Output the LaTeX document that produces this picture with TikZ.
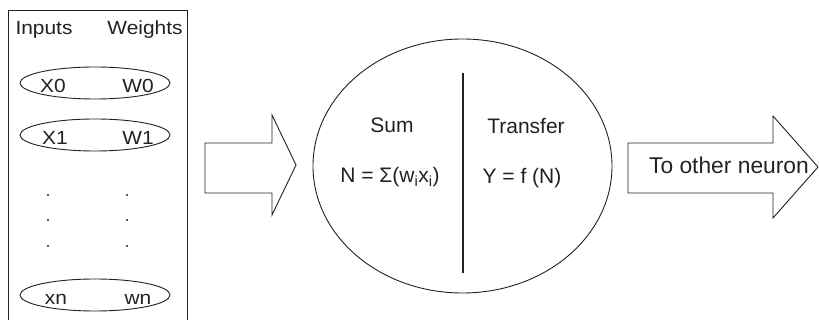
\documentclass[tikz,border=0pt]{standalone}
\usepackage{fontspec}
\usepackage{graphicx}
\usetikzlibrary{shapes.geometric}
\setmainfont{Liberation Sans}
\definecolor{ink}{HTML}{222222}
\begin{document}
\begin{tikzpicture}[x=1pt,y=-1pt,
  line/.style={draw=ink,line width=0.9pt},
  lbl/.style={text=ink,inner sep=0pt,anchor=base,font=\fontsize{21}{24}\selectfont},
  sml/.style={text=ink,inner sep=0pt,anchor=base,font=\fontsize{19}{22}\selectfont},
  inel/.style={draw=ink,line width=0.9pt,ellipse,minimum width=150pt,minimum height=32pt,inner sep=0pt},
  dotmark/.style={circle,fill=ink,inner sep=0pt,minimum size=2.4pt}]
\useasboundingbox (0,0) rectangle (819,320);
\fill[white] (0,0) rectangle (819,320);
% left box
\draw[line] (8,325) -- (8,10) -- (187,10) -- (187,325);
\node[sml] (inputs) at (44,35) {\scalebox{1.1}[1]{Inputs}};
\node[sml] (weights) at (145,35) {\scalebox{1.1}[1]{Weights}};
\node[inel] (e0) at (95,83) {};
\node[inel] (e1) at (95,135) {};
\node[inel] (en) at (95,295) {};
\node[sml] (x0) at (53,93) {\scalebox{1.1}[1]{X0}};
\node[sml] (w0) at (138,93) {\scalebox{1.1}[1]{W0}};
\node[sml] (x1) at (55,145) {\scalebox{1.1}[1]{X1}};
\node[sml] (w1) at (138,145) {\scalebox{1.1}[1]{W1}};
\node[sml] (xn) at (56,305) {\scalebox{1.1}[1]{xn}};
\node[sml] (wn) at (138,305) {\scalebox{1.1}[1]{wn}};
\node[dotmark] (d1) at (48,195) {};
\node[dotmark] (d2) at (48,220) {};
\node[dotmark] (d3) at (48,246) {};
\node[dotmark] (d4) at (127,195) {};
\node[dotmark] (d5) at (127,220) {};
\node[dotmark] (d6) at (127,246) {};
% left block arrow
\draw[line,line join=miter] (205,143) -- (272,143) -- (272,115) -- (296,165) -- (272,215) -- (272,193) -- (205,193) -- cycle;
% neuron
\draw[line] (462.5,166) ellipse [x radius=149.5, y radius=127];
\coordinate (vtop) at (463,73);
\coordinate (vbot) at (463,273);
\draw[draw=ink,line width=1.8pt] (vtop) -- (vbot);
\node[lbl] (sum) at (392,133) {Sum};
\node[lbl] (nform) at (390,183) {N = Σ(w\textsubscript{i}x\textsubscript{i})};
\node[lbl] (transfer) at (526,134) {Transfer};
\node[lbl] (yform) at (522,184) {Y = f (N)};
% right block arrow
\draw[line,line join=miter] (628,143) -- (773,143) -- (773,116) -- (818,167) -- (773,218) -- (773,193) -- (628,193) -- cycle;
\node[lbl,font=\fontsize{22.8}{26}\selectfont] (other) at (729,174) {To other neuron};
\end{tikzpicture}
\end{document}
